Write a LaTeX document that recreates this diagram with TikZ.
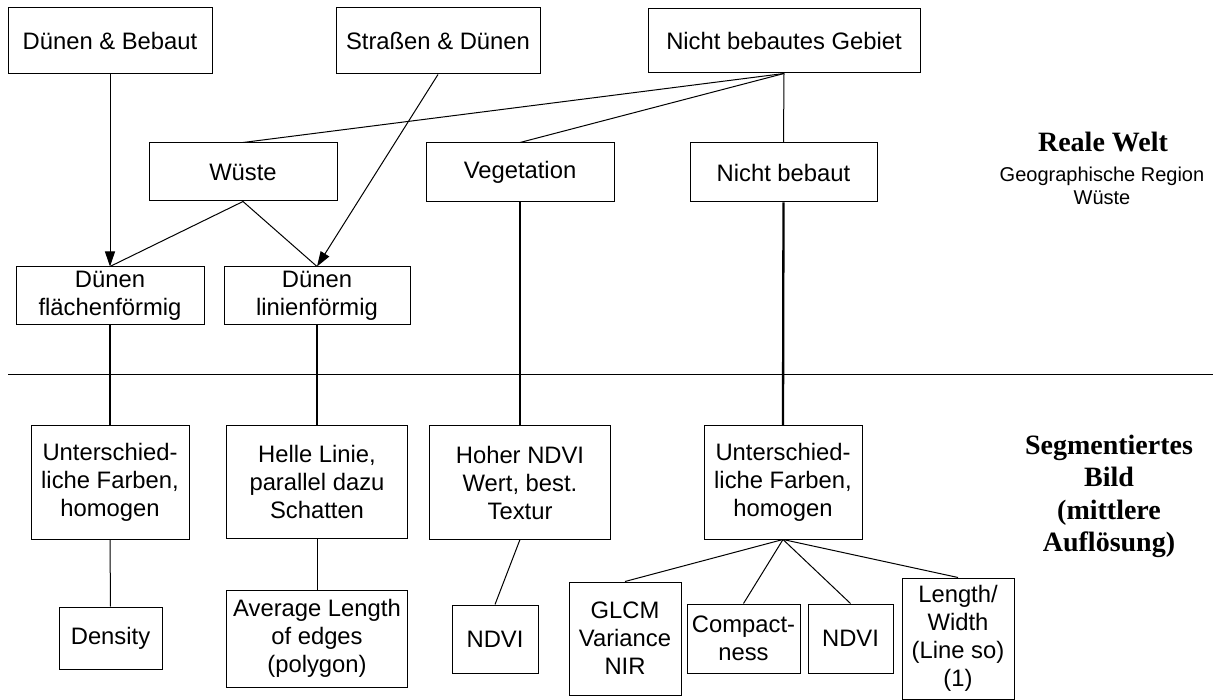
\documentclass[tikz,border=0pt]{standalone}
\usepackage{fontspec}
\setmainfont{Liberation Sans}
\newfontfamily\serifbold{Liberation Serif}
\usetikzlibrary{arrows.meta}
\newcommand\bxfont{\fontsize{23.8}{28}\selectfont}
\newcommand\lblfont{\serifbold\bfseries\fontsize{28}{32.5}\selectfont}
\newcommand\subfont{\fontsize{20}{23}\selectfont}
\begin{document}
\begin{tikzpicture}[x=1pt,y=-1pt,
  box/.style={draw, line width=1pt, align=center, inner sep=0pt, font=\bxfont},
  thin/.style={line width=1pt},
  thick/.style={line width=2.3pt},
  arr/.style={line width=1pt, -{Triangle[length=15pt,width=10pt]}}]
\useasboundingbox (0,0) rectangle (1219,700);
% top row
\node[box, minimum width=204pt, minimum height=66pt] (db) at (110,41) {Dünen \& Bebaut};
\node[box, minimum width=204pt, minimum height=66pt] (sd) at (438,41) {Straßen \& Dünen};
\node[box, minimum width=272pt, minimum height=64pt] (nbg) at (784,41) {Nicht bebautes Gebiet};
% second row
\node[box, minimum width=188pt, minimum height=58pt] (wu) at (243,172) {Wüste};
\node[box, minimum width=188pt, minimum height=59pt] (veg) at (520,172.5) {Vegetation};
\node[box, minimum width=187pt, minimum height=59pt] (nb) at (783.5,172.5) {Nicht bebaut};
% third row
\node[box, minimum width=188pt, minimum height=58pt] (dfl) at (110,296) {Dünen\\flächenförmig};
\node[box, minimum width=186pt, minimum height=58pt] (dli) at (317,296) {Dünen\\linienförmig};
% segmented image
\node[box, minimum width=158pt, minimum height=113pt] (u1) at (110,482.5) {Unterschied-\\liche Farben,\\homogen};
\node[box, minimum width=181pt, minimum height=112pt] (hl) at (317,482) {Helle Linie,\\parallel dazu\\Schatten};
\node[box, minimum width=181pt, minimum height=113pt] (hn) at (520,482.5) {Hoher NDVI\\Wert, best.\\Textur};
\node[box, minimum width=158pt, minimum height=113pt] (u2) at (783,482.5) {Unterschied-\\liche Farben,\\homogen};
% features
\node[box, minimum width=103pt, minimum height=62pt] (den) at (110.5,638) {Density};
\node[box, minimum width=181pt, minimum height=97pt] (avg) at (317,638.5) {Average Length\\of edges\\(polygon)};
\node[box, minimum width=86pt, minimum height=68pt] (nd1) at (495,639) {NDVI};
\node[box, minimum width=112pt, minimum height=113pt] (glcm) at (625,638.5) {GLCM\\Variance\\NIR};
\node[box, minimum width=113pt, minimum height=69pt] (comp) at (743.5,638.5) {Compact-\\ness};
\node[box, minimum width=85pt, minimum height=69pt] (nd2) at (850.5,638.5) {NDVI};
\node[box, minimum width=112pt, minimum height=121pt] (lw) at (958,638.5) {Length/\\Width\\(Line so)\\(1)};
% labels
\node[anchor=base, inner sep=0pt, font=\lblfont] (rw) at (1103,152) {Reale Welt};
\node[anchor=base, inner sep=0pt, font=\subfont, align=center] (gr) at (1102,182) {Geographische Region};
\node[anchor=base, inner sep=0pt, font=\subfont] (gw) at (1102,205) {Wüste};
\node[anchor=center, inner sep=0pt, font=\lblfont, align=center] (sb) at (1109,496.5) {Segmentiertes\\Bild\\(mittlere\\Auflösung)};
% separator
\coordinate (s1) at (8,375);
\coordinate (s2) at (1213,375);
\draw[thin] (s1) -- (s2);
% connectors
\draw[arr] (db.south) -- (dfl.north);
\draw[arr] (sd.south) -- (dli.north);
\draw[thin] (nbg.south) -- (wu.north);
\draw[thin] (nbg.south) -- (veg.north);
\draw[thin] (nbg.south) -- (nb.north);
\draw[thin] (wu.south) -- (dfl.north);
\draw[thin] (wu.south) -- (dli.north);
\draw[thick] (dfl.south) -- (u1.north);
\draw[thick] (dli.south) -- (hl.north);
\draw[thick] (veg.south) -- (hn.north);
\draw[thick] (nb.south) -- (u2.north);
\draw[thin] (u1.south) -- (den.north);
\draw[thin] (hl.south) -- (avg.north);
\draw[thin] (hn.south) -- (nd1.north);
\draw[thin] (u2.south) -- (glcm.north);
\draw[thin] (u2.south) -- (comp.north);
\draw[thin] (u2.south) -- (nd2.north);
\draw[thin] (u2.south) -- (lw.north);
\end{tikzpicture}
\end{document}
